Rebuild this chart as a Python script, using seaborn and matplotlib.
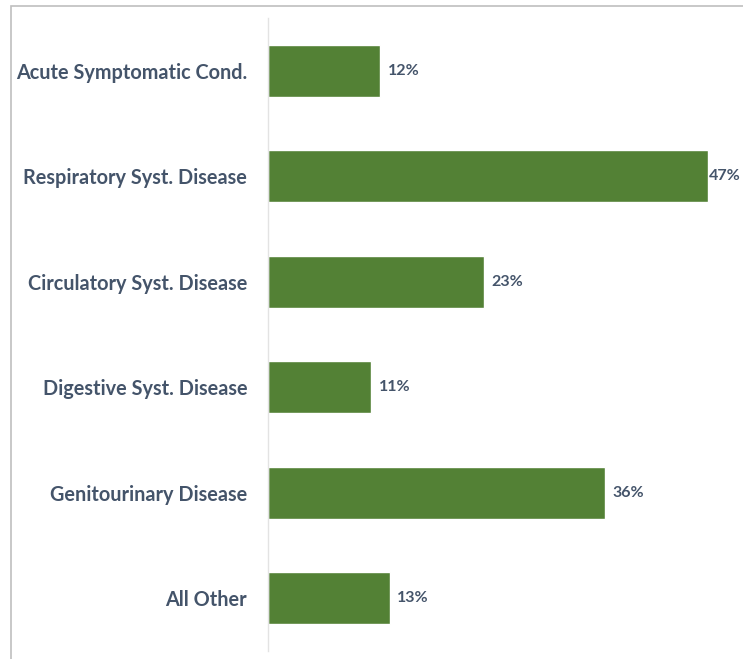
import matplotlib
matplotlib.use('Agg')
import matplotlib.pyplot as plt
import seaborn as sns
import pandas as pd
import numpy as np
from matplotlib.patches import Rectangle

# 数据
categories = ['Acute Symptomatic Cond.', 'Respiratory Syst. Disease', 'Circulatory Syst. Disease',
              'Digestive Syst. Disease', 'Genitourinary Disease', 'All Other']
values = [12, 47, 23, 11, 36, 13]
value_labels = ['12%', '47%', '23%', '11%', '36%', '13%']

df = pd.DataFrame({'category': categories, 'value': values})

sns.set_style('white')
plt.rcParams['font.family'] = ['Lato', 'DejaVu Sans']

text_color = '#44546A'
bar_color = '#538135'

fig = plt.figure(figsize=(7.43, 6.59), dpi=100)
ax = fig.add_axes([268 / 743, 8 / 659, 468.5 / 743, 633 / 659])

sns.barplot(data=df, x='value', y='category', orient='h', color=bar_color,
            width=0.49, saturation=1, ax=ax)

ax.set_xlim(0, 50)
ax.set_ylim(5.5, -0.5)

# 数值标签 (最长的一条贴着柱子末端放，免得超出画面)
for i, (v, lab) in enumerate(zip(values, value_labels)):
    off = 0.1 if v == max(values) else 0.8
    ax.text(v + off, i, lab, va='center', ha='left', fontsize=11.5,
            fontweight='bold', color=text_color)

ax.set_xlabel('')
ax.set_ylabel('')
ax.set_xticks([])
ax.tick_params(axis='y', which='major', length=0, pad=15, labelsize=14.3, labelcolor=text_color)
for t in ax.get_yticklabels():
    t.set_fontweight('bold')

# 分隔刻度
ax.set_yticks(np.arange(-0.5, 6.0, 1.0), minor=True)
ax.tick_params(axis='y', which='minor', length=5, color='#d9d9d9', width=1)

for s in ['top', 'right', 'bottom']:
    ax.spines[s].set_visible(False)
ax.spines['left'].set_color('#e3e3e3')
ax.spines['left'].set_linewidth(1)

# 外框
fig.patches.append(Rectangle((11 / 743, -0.1), 1.2, 1 - 6 / 659 + 0.1, transform=fig.transFigure,
                             fill=False, edgecolor='#bfbfbf', linewidth=1.2))

fig.savefig('out.png', dpi=100)
